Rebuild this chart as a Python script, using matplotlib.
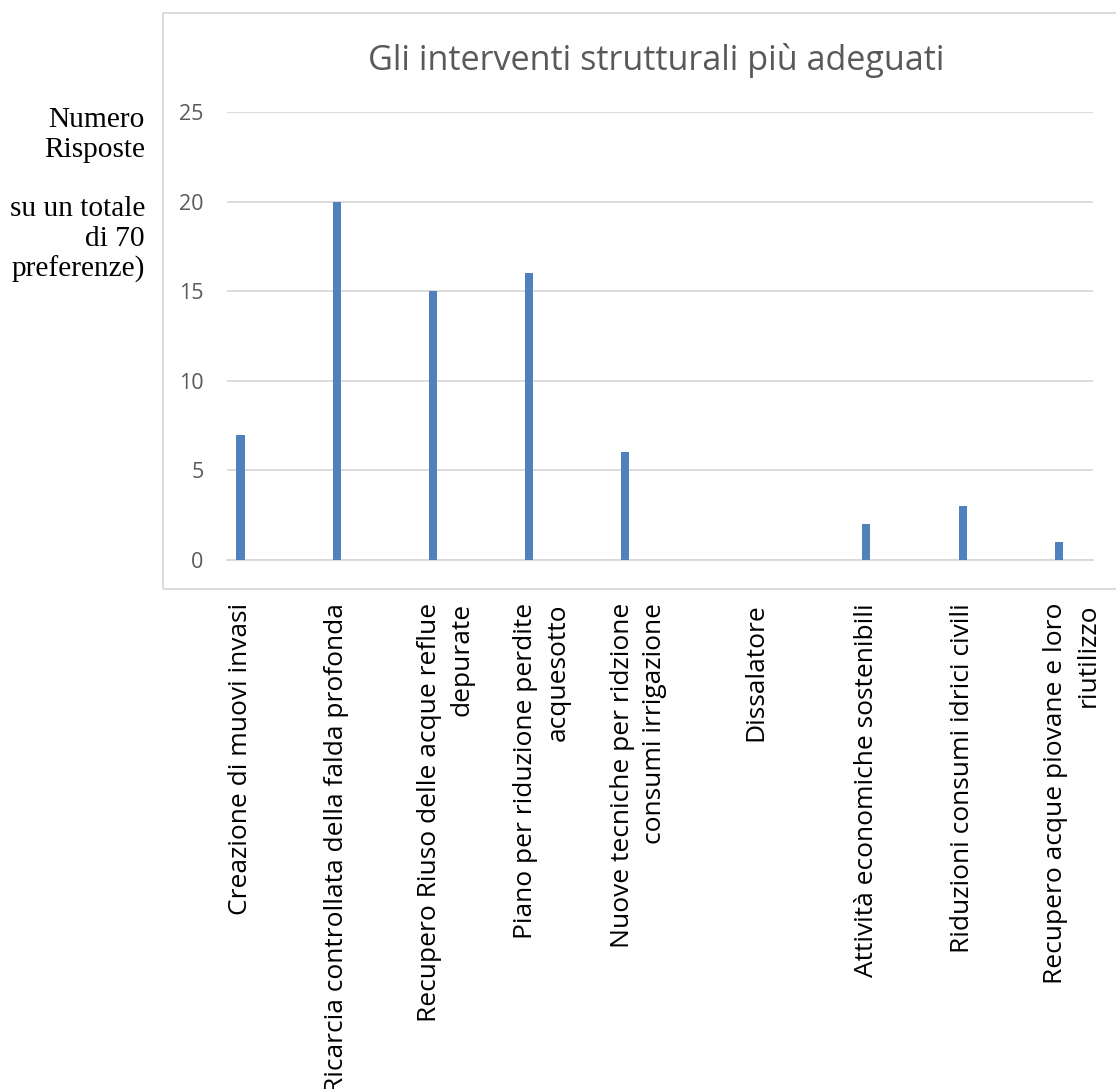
import numpy as np
import matplotlib.pyplot as plt
from matplotlib.patches import Rectangle
from matplotlib.transforms import ScaledTranslation

categories = [
    "Creazione di muovi invasi",
    "Ricarcia controllata della falda profonda",
    "Recupero Riuso delle acque reflue\ndepurate",
    "Piano per riduzione perdite\nacquesotto",
    "Nuove tecniche per ridzione\nconsumi irrigazione",
    "Dissalatore",
    "Attività economiche sostenibili",
    "Riduzioni consumi idrici civili",
    "Recupero acque piovane e loro\nriutilizzo",
]
risposte = [7, 20, 15, 16, 6, 0, 2, 3, 1]
yticks = [0, 5, 10, 15, 20, 25]

title = "Gli interventi strutturali più adeguati"
ylabel = "Numero\nRisposte\n\nsu un totale\ndi 70\npreferenze)"

W, H = 1116, 1089
fig = plt.figure(figsize=(W / 100, H / 100), dpi=100)

# plot area in pixels
x0, x1 = 227, 1093
y_top, y_bot = 112, 560
ax = fig.add_axes([x0 / W, 1 - y_bot / H, (x1 - x0) / W, (y_bot - y_top) / H])

# chart border (runs off the right edge)
fig.patches.append(Rectangle((162.5 / W, 1 - 589 / H), 1.2, (589 - 13) / H,
                             transform=fig.transFigure, fill=False,
                             edgecolor="#d9d9d9", lw=1.3, clip_on=False))

x = np.arange(len(categories))
# bars sit off-centre in their slots, first group left, last group right
shift = np.array([-0.36] * 5 + [0.0] + [0.145] * 3)
ax.bar(x + shift, risposte, width=0.085, color="#4f81bd", zorder=3)

ax.set_xlim(-0.5, len(categories) - 0.5)
ax.set_ylim(0, 25)
ax.set_yticks(yticks)
ax.grid(axis="y", color="#d9d9d9", lw=1.3, zorder=0)
for s in ["top", "right", "left"]:
    ax.spines[s].set_visible(False)
ax.spines["bottom"].set_color("#d9d9d9")
ax.spines["bottom"].set_linewidth(1.3)

ax.tick_params(axis="y", length=0, pad=17, labelsize=15.5, labelcolor="#595959")
for t in ax.get_yticklabels():
    t.set_fontfamily("Open Sans")

ax.set_xticks(x + shift)
ax.set_xticklabels(categories, rotation=90, ha="center", va="top",
                   multialignment="right", fontsize=19, family="Open Sans",
                   linespacing=1.4)
ax.tick_params(axis="x", length=0, pad=31)
for t, lab in zip(ax.get_xticklabels(), categories):
    if "\n" in lab:
        t.set_transform(t.get_transform() +
                        ScaledTranslation(13 / 100, 0, fig.dpi_scale_trans))

fig.text(656 / W, 1 - 60 / H, title, ha="center", va="center",
         fontsize=24.6, color="#595959", family="Open Sans")

fig.text(145 / W, 1 - 107 / H, ylabel, ha="right", va="top",
         fontsize=21.2, family="Liberation Serif", linespacing=1.19)

fig.savefig("out.png", dpi=100)
